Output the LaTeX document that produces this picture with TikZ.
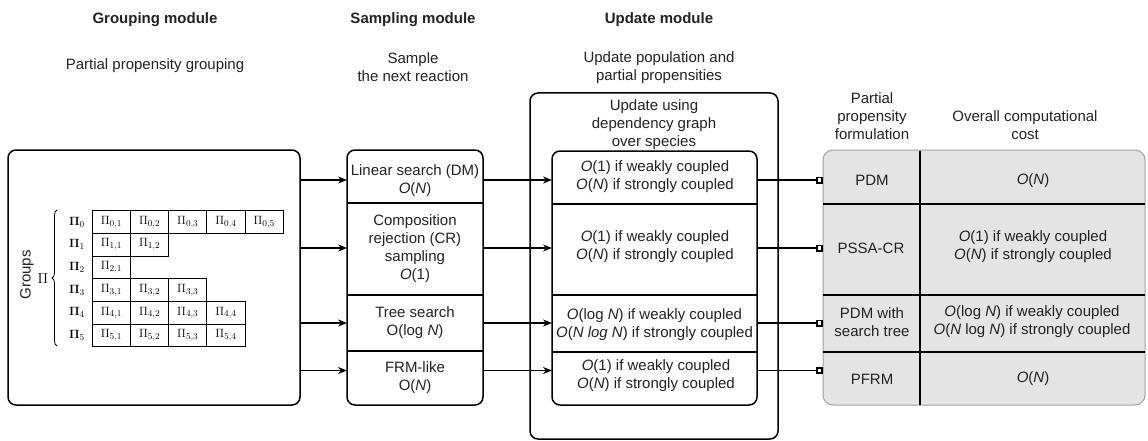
\documentclass[tikz,border=0pt]{standalone}
\usepackage[no-math]{fontspec}
\setmainfont{Liberation Sans}
\usetikzlibrary{arrows.meta,decorations.pathreplacing}
\definecolor{cellgray}{HTML}{E4E4E4}
\definecolor{rimgray}{HTML}{A0A0A0}
\definecolor{ink}{HTML}{222222}
\begin{document}
\begin{tikzpicture}[x=1pt,y=-1pt,
  lbl/.style={font=\fontsize{15}{18}\selectfont, align=center, inner sep=0pt, text=ink},
  ttl/.style={lbl, font=\fontsize{15}{18}\selectfont\bfseries},
  modbox/.style={draw, line width=1.5pt, rounded corners=8pt, inner sep=0pt, outer sep=0pt},
  costbox/.style={draw=rimgray, fill=cellgray, line width=1pt, rounded corners=10pt, inner sep=0pt, outer sep=0pt},
  rule/.style={line width=1.5pt},
  arr/.style={-{Stealth[length=9pt,width=7pt]}, line width=1.5pt},
  sqlink/.style={-{Square[length=7pt,width=7pt,fill=white,line width=1.6pt]}, line width=1.5pt},
  cell/.style={draw, line width=1pt, minimum width=38.2pt, minimum height=22.67pt, inner sep=0pt, font=\fontsize{13}{14}\selectfont},
  grp/.style={inner sep=0pt, font=\fontsize{13}{14}\selectfont}
]
\useasboundingbox (0,0) rectangle (1148,441);

% column headings
\node[ttl] (h1) at (155,20) {Grouping module};
\node[ttl] (h2) at (413,20) {Sampling module};
\node[ttl] (h3) at (659,20) {Update module};
\node[lbl] (d1) at (155,66) {Partial propensity grouping};
\node[lbl] (d2) at (413,67.5) {Sample\\the next reaction};
\node[lbl] (d3) at (659,67.5) {Update population and\\partial propensities};

% row levels of the connectors
\coordinate (r1) at (0,180);
\coordinate (r2) at (0,248);
\coordinate (r3) at (0,323);
\coordinate (r4) at (0,370.5);

% grouping module
\node[modbox, minimum width=292pt, minimum height=255pt] (g) at (154,277.5) {};
\node[lbl, rotate=90] (grp) at (27,275) {Groups};
\node[grp, font=\fontsize{14}{14}\selectfont] (pi) at (43,279) {$\Pi$};
\draw[line width=0.8pt, decorate, decoration={brace, amplitude=5pt}] (57,346) -- (57,210);
\foreach \i/\n in {0/5,1/2,2/1,3/3,4/4,5/4}{
  \node[grp] (p\i) at (77,{222+22.67*\i}) {$\mathbf{\Pi}_{\i}$};
  \foreach \j in {1,...,\n}{
    \node[cell] (c\i\j) at ({92.3+38.2*(\j-0.5)},{222+22.67*\i}) {$\Pi_{\i,\j}$};
  }
}

% sampling module
\node[modbox, minimum width=136pt, minimum height=255pt] (s) at (415,277.5) {};
\foreach \yy in {203,295,351}{ \draw[rule] (s.west |- 0,\yy) -- (s.east |- 0,\yy); }
\node[lbl] (s1) at (415,180.5) {Linear search (DM)\\\textit{O}(\textit{N})};
\node[lbl] (s2) at (415,249) {Composition\\rejection (CR)\\sampling\\\textit{O}(1)};
\node[lbl] (s3) at (415,323) {Tree search\\O(log \textit{N})};
\node[lbl] (s4) at (415,378) {FRM-like\\O(\textit{N})};

% update module
\node[modbox, minimum width=248pt, minimum height=346pt] (uo) at (654,266) {};
\node[lbl] (ut) at (654,125) {Update using\\dependency graph\\over species};
\node[modbox, fill=white, minimum width=205pt, minimum height=254pt] (ui) at (654.5,278) {};
\foreach \yy in {204,295,352}{ \draw[rule] (ui.west |- 0,\yy) -- (ui.east |- 0,\yy); }
\node[lbl] (u1) at (655,177) {\textit{O}(1) if weakly coupled\\\textit{O}(\textit{N}) if strongly coupled};
\node[lbl] (u2) at (655,247) {\textit{O}(1) if weakly coupled\\\textit{O}(\textit{N}) if strongly coupled};
\node[lbl] (u3) at (654.5,325) {\textit{O}(log \textit{N}) if weakly coupled\\\textit{O}(\textit{N log N}) if strongly coupled};
\node[lbl] (u4) at (656,376) {\textit{O}(1) if weakly coupled\\\textit{O}(\textit{N}) if strongly coupled};

% resulting formulations and their cost
\node[lbl] (t1) at (872,116) {Partial\\propensity\\formulation};
\node[lbl] (t2) at (1025,125.5) {Overall computational\\cost};
\node[costbox, minimum width=322pt, minimum height=255pt] (tb) at (984,277.5) {};
\draw[rule] (920,150.5) -- (920,404.5);
\foreach \yy in {204,295,352}{ \draw[rule] (tb.west |- 0,\yy) -- (tb.east |- 0,\yy); }
\node[lbl] (f1) at (872,180) {PDM};
\node[lbl] (k1) at (1033,181) {\textit{O}(\textit{N})};
\node[lbl] (f2) at (871,248) {PSSA-CR};
\node[lbl] (k2) at (1033,247) {\textit{O}(1) if weakly coupled\\\textit{O}(\textit{N}) if strongly coupled};
\node[lbl] (f3) at (872,322) {PDM with\\search tree};
\node[lbl] (k3) at (1032,322) {\textit{O}(log \textit{N}) if weakly coupled\\\textit{O}(\textit{N} log \textit{N}) if strongly coupled};
\node[lbl] (f4) at (872,379) {PFRM};
\node[lbl] (k4) at (1033,379) {\textit{O}(\textit{N})};

% connectors
\foreach \r in {r1,r2,r3,r4}{
  \draw[arr] (g.east |- \r) -- (s.west |- \r);
  \draw[arr] (s.east |- \r) -- (ui.west |- \r);
  \draw[sqlink] (ui.east |- \r) -- (tb.west |- \r);
}
\end{tikzpicture}
\end{document}
